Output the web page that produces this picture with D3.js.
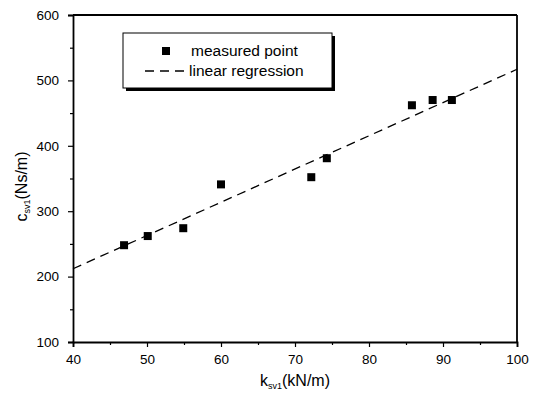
<!DOCTYPE html>
<html>
<head>
<meta charset="utf-8">
<script src="https://cdn.jsdelivr.net/npm/d3@7"></script>
<style>
  body { margin: 0; background: #fff; }
  svg { display: block; font-family: "Liberation Sans", Arial, sans-serif; }
</style>
</head>
<body>
<svg id="chart" width="536" height="394"></svg>
<script>
// Data
const kValues = [46.9, 50.1, 54.9, 60.0, 72.2, 74.3, 85.8, 88.6, 91.2];
const cValues = [248, 262, 274, 341, 352, 381, 462, 470, 470];
const regK = [40, 100];
const regC = [212, 517];
const xTicks = [40, 50, 60, 70, 80, 90, 100];
const yTicks = [100, 200, 300, 400, 500, 600];
const xMinor = [45, 55, 65, 75, 85, 95];
const yMinor = [150, 250, 350, 450, 550];

const svg = d3.select("#chart");
const L = 73, R = 517, T = 15, B = 342;
const x = d3.scaleLinear().domain([40, 100]).range([L, R]);
const y = d3.scaleLinear().domain([100, 600]).range([B, T]);

// Frame (top and right)
svg.append("line").attr("x1", L).attr("x2", R).attr("y1", T).attr("y2", T)
  .attr("stroke", "#000").attr("stroke-width", 1.8);
svg.append("line").attr("x1", R).attr("x2", R).attr("y1", T).attr("y2", B)
  .attr("stroke", "#000").attr("stroke-width", 1.8);

// Axes
const xAxis = svg.append("g").attr("transform", `translate(0,${B})`)
  .call(d3.axisBottom(x).tickValues(xTicks).tickSize(5).tickPadding(7).tickFormat(d3.format("d")));
const xAxisMinor = svg.append("g").attr("transform", `translate(0,${B})`)
  .call(d3.axisBottom(x).tickValues(xMinor).tickSize(3).tickFormat(""));
const yAxis = svg.append("g").attr("transform", `translate(${L},0)`)
  .call(d3.axisLeft(y).tickValues(yTicks).tickSize(5).tickPadding(9).tickFormat(d3.format("d")));
const yAxisMinor = svg.append("g").attr("transform", `translate(${L},0)`)
  .call(d3.axisLeft(y).tickValues(yMinor).tickSize(3).tickFormat(""));

[xAxis, xAxisMinor, yAxis, yAxisMinor].forEach(g => {
  g.select(".domain").attr("stroke", "#000").attr("stroke-width", 1.8);
  g.selectAll(".tick line").attr("stroke", "#000").attr("stroke-width", 1.2);
  g.selectAll(".tick text").attr("fill", "#000").style("font-size", "13.5px")
    .style("font-family", "'Liberation Sans', Arial, sans-serif");
});
xAxisMinor.select(".domain").remove();
yAxisMinor.select(".domain").remove();

// Regression line
const line = d3.line().x(d => x(d[0])).y(d => y(d[1]));
svg.append("path").datum(regK.map((k, i) => [k, regC[i]]))
  .attr("d", line).attr("fill", "none").attr("stroke", "#000")
  .attr("stroke-width", 1.3).attr("stroke-dasharray", "9,6");

// Points
const ms = 8;
svg.selectAll("rect.pt").data(kValues.map((k, i) => [k, cValues[i]])).enter()
  .append("rect").attr("class", "pt")
  .attr("x", d => x(d[0]) - ms / 2).attr("y", d => y(d[1]) - ms / 2)
  .attr("width", ms).attr("height", ms).attr("fill", "#000");

// Axis titles
const xt = svg.append("text").attr("x", (L + R) / 2).attr("y", 386)
  .attr("text-anchor", "middle").style("font-size", "16px").attr("fill", "#000");
xt.append("tspan").text("k");
xt.append("tspan").attr("dy", 3).style("font-size", "9px").text("sv1");
xt.append("tspan").attr("dy", -3).text("(kN/m)");

const yt = svg.append("text").attr("transform", `translate(27,${(T + B) / 2 + 8}) rotate(-90)`)
  .attr("text-anchor", "middle").style("font-size", "16px").attr("fill", "#000");
yt.append("tspan").text("c");
yt.append("tspan").attr("dy", 3).style("font-size", "9px").text("sv1");
yt.append("tspan").attr("dy", -3).text("(Ns/m)");

// Legend
const lg = svg.append("g");
lg.append("rect").attr("x", 126).attr("y", 36).attr("width", 209).attr("height", 55).attr("fill", "#000");
lg.append("rect").attr("x", 123).attr("y", 33).attr("width", 209).attr("height", 55)
  .attr("fill", "#fff").attr("stroke", "#000").attr("stroke-width", 1);
lg.append("rect").attr("x", 166 - ms / 2).attr("y", 51 - ms / 2).attr("width", ms).attr("height", ms).attr("fill", "#000");
lg.append("text").attr("x", 191).attr("y", 56).style("font-size", "15.5px").attr("fill", "#000").text("measured point");
lg.append("line").attr("x1", 145).attr("x2", 187).attr("y1", 71).attr("y2", 71)
  .attr("stroke", "#000").attr("stroke-width", 1.3).attr("stroke-dasharray", "9,6");
lg.append("text").attr("x", 189).attr("y", 76).style("font-size", "15.5px").attr("fill", "#000").text("linear regression");
</script>
</body>
</html>
